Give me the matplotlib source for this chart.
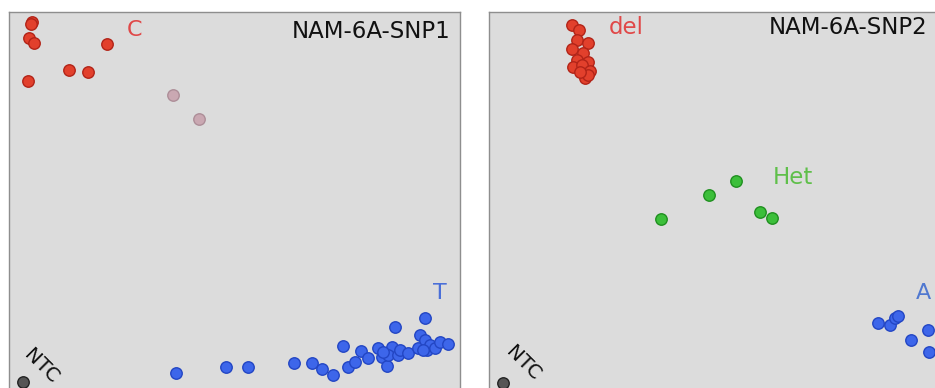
import matplotlib
matplotlib.use("Agg")
import matplotlib.pyplot as plt

W, H = 935, 388

# ---- Panel 1: NAM-6A-SNP1 (coordinates: x right, y up, arbitrary fluorescence units)
p1_C_x = [32, 31, 29, 34, 107, 28, 69, 88]
p1_C_y = [366, 364, 350, 345, 344, 307, 318, 316]
p1_unk_x = [173, 199]
p1_unk_y = [293, 269]
p1_T_x = [176, 226, 248, 294, 312, 322, 333, 343, 348, 355, 361, 368, 378, 382, 387, 392,
          388, 395, 398, 400, 408, 418, 420, 425, 425, 427, 430, 435, 440, 448, 383, 423]
p1_T_y = [15, 21, 21, 25, 25, 19, 13, 42, 21, 26, 37, 30, 40, 31, 22, 41,
          33, 61, 33, 38, 35, 40, 53, 70, 48, 38, 43, 40, 46, 44, 36, 38]
p1_ntc_x = [23]
p1_ntc_y = [6]

# ---- Panel 2: NAM-6A-SNP2
p2_del_x = [572, 579, 577, 588, 572, 583, 577, 588, 573, 582, 590, 585, 588, 580]
p2_del_y = [363, 358, 348, 345, 339, 335, 328, 326, 321, 323, 317, 310, 313, 316]
p2_het_x = [661, 709, 736, 760, 772]
p2_het_y = [169, 193, 207, 176, 170]
p2_A_x = [878, 890, 895, 898, 911, 928, 929]
p2_A_y = [65, 63, 70, 72, 48, 58, 36]
p2_ntc_x = [503]
p2_ntc_y = [5]

BG = "#dcdcdc"
fig = plt.figure(figsize=(W / 100, H / 100), dpi=100)
fig.patch.set_facecolor("white")

def make_ax(x0, x1):
    top = 12
    bottom = 400
    ax = fig.add_axes([x0 / W, (H - bottom) / H, (x1 - x0) / W, (bottom - top) / H])
    ax.set_facecolor(BG)
    ax.set_xlim(x0, x1)
    ax.set_ylim(H - bottom, H - top)
    ax.set_xticks([])
    ax.set_yticks([])
    for s in ax.spines.values():
        s.set_color("#8e8e8e")
        s.set_linewidth(1.0)
    return ax

S = 68

def pts(ax, x, y, fc, ec):
    ax.scatter(x, y, s=S, c=fc, edgecolors=ec, linewidths=1.0, zorder=3)

ax1 = make_ax(9, 460)
pts(ax1, p1_C_x, p1_C_y, "#e2402c", "#b22418")
pts(ax1, p1_unk_x, p1_unk_y, "#caa8b2", "#ad8e98")
pts(ax1, p1_T_x, p1_T_y, "#3d66ea", "#2346c4")
pts(ax1, p1_ntc_x, p1_ntc_y, "#555555", "#222222")
ax1.text(451, H - 31, "NAM-6A-SNP1", ha="right", va="center", fontsize=16.5, color="#111111")
ax1.text(127, H - 30, "C", ha="left", va="center", fontsize=16, color="#e04848")
ax1.text(440, H - 293, "T", ha="center", va="center", fontsize=16, color="#4a6fd8")
ax1.text(41, H - 366, "NTC", ha="center", va="center", fontsize=14.5, color="#111111", rotation=-45)

ax2 = make_ax(489, 960)
pts(ax2, p2_del_x, p2_del_y, "#e2402c", "#b22418")
pts(ax2, p2_het_x, p2_het_y, "#3cbf3a", "#209020")
pts(ax2, p2_A_x, p2_A_y, "#3d66ea", "#2346c4")
pts(ax2, p2_ntc_x, p2_ntc_y, "#555555", "#222222")
ax2.text(769, H - 28, "NAM-6A-SNP2", ha="left", va="center", fontsize=16.5, color="#111111")
ax2.text(609, H - 28, "del", ha="left", va="center", fontsize=16.5, color="#e04848")
ax2.text(773, H - 178, "Het", ha="left", va="center", fontsize=16.5, color="#5fbf4a")
ax2.text(923, H - 293, "A", ha="center", va="center", fontsize=16, color="#5078d0")
ax2.text(523, H - 363, "NTC", ha="center", va="center", fontsize=14.5, color="#111111", rotation=-45)

fig.savefig("out.png", dpi=100, facecolor="white")
